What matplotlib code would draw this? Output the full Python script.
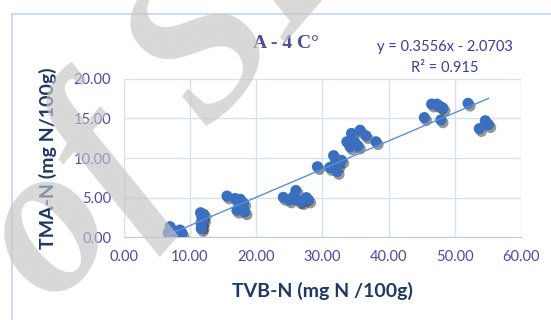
import numpy as np
import matplotlib.pyplot as plt
import matplotlib.patheffects as pe
from matplotlib.patches import Rectangle

# TVB-N vs TMA-N readings (mg N / 100g)
tvb_n = [7.0, 6.7, 7.75, 7.5, 8.5, 8.75, 8.25,
         11.6, 12.1, 11.8, 12.0, 11.7, 11.8, 11.7,
         15.6, 16.8, 17.6, 17.3, 18.1, 17.1, 18.3, 17.8,
         24.1, 25.0, 26.0, 26.9, 27.9, 25.6, 27.6, 26.5,
         29.25, 31.7, 31.1, 32.3, 32.9, 32.2, 32.0,
         33.7, 34.4, 35.7, 36.6, 34.2, 35.4, 38.1, 34.9,
         46.5, 47.3, 47.8, 48.2, 45.4, 47.9, 52.0,
         53.7, 54.6, 55.1]
tma_n = [1.34, 0.58, 0.7, 0.08, 0.92, 0.5, 0.29,
         3.1, 2.9, 2.5, 2.2, 1.8, 1.4, 1.1,
         5.2, 4.9, 4.8, 4.5, 4.3, 3.4, 3.2, 3.9,
         5.04, 4.7, 5.9, 4.5, 4.7, 5.1, 5.0, 4.6,
         8.9, 10.3, 8.8, 9.1, 9.7, 8.3, 9.5,
         12.05, 13.1, 13.5, 12.8, 11.4, 11.5, 12.05, 12.0,
         16.8, 16.8, 16.5, 16.3, 15.1, 14.8, 16.9,
         13.7, 14.7, 14.2]

slope = 0.3556
intercept = -2.0703
r2 = 0.915

x_ticks = [0, 10, 20, 30, 40, 50, 60]
y_ticks = [0, 5, 10, 15, 20]

tick_color = '#4b4b9e'
label_color = '#1f3864'

fig = plt.figure(figsize=(5.51, 3.2), dpi=100)
ax = fig.add_axes([0.2245, 0.2584, 0.7211, 0.4956])
ax.set_xlim(0, 60)
ax.set_ylim(0, 20)
ax.set_xticks(x_ticks)
ax.set_yticks(y_ticks)
ax.xaxis.set_major_formatter(lambda v, p: '%.2f' % v)
ax.yaxis.set_major_formatter(lambda v, p: '%.2f' % v)
ax.tick_params(length=0, labelsize=10.5, labelcolor=tick_color, pad=9)
for lab in ax.get_xticklabels() + ax.get_yticklabels():
    lab.set_family('Lato')
ax.grid(True, color='#d6e2f3', linewidth=1.0)
ax.set_axisbelow(True)
for side in ['top', 'right']:
    ax.spines[side].set_visible(False)
ax.spines['left'].set_color('#d6e2f3')
ax.spines['bottom'].set_color('#b8cce8')

ax.scatter(tvb_n, tma_n, s=64, color='#3a6fbf', zorder=3, linewidths=0,
           path_effects=[pe.SimplePatchShadow(offset=(1.5, -2), shadow_rgbFace='#1a1a1a', alpha=0.45),
                         pe.Normal()])

xs = np.array([min(tvb_n), max(tvb_n)])
ax.plot(xs, slope * xs + intercept, color='#5a8fd6', linewidth=1.0, zorder=4)

ax.set_xlabel('TVB-N (mg N /100g)', family='Lato', fontsize=14, fontweight='bold',
              color=label_color, labelpad=13)
ax.set_ylabel('TMA-N (mg N/100g)', family='Lato', fontsize=14, fontweight='bold',
              color=label_color, labelpad=12)

fig.text(286 / 551, 1 - 43 / 320, 'A - 4 C°', family='Liberation Serif', fontweight='bold',
         fontsize=14, color='#4d4d92', ha='center', va='center')
fig.text(445 / 551, 1 - 47 / 320, 'y = %.4fx - %.4f' % (slope, -intercept), family='Lato',
         fontsize=10.5, color='#3d3d8f', ha='center', va='center')
fig.text(445 / 551, 1 - 68 / 320, 'R² = %.3f' % r2, family='Lato',
         fontsize=10.5, color='#3d3d8f', ha='center', va='center')

# chart frame
fig.patches.append(Rectangle((12 / 551, -0.1), 1.2, 1.1 - 14 / 320, transform=fig.transFigure,
                             fill=False, edgecolor='#cfdcef', linewidth=1.5))

# watermark
fig.text(55 / 551, 12 / 320, 'of SL', family='Liberation Serif', style='italic',
         fontweight='bold', fontsize=155,
         color='#c4c4c4', alpha=0.65, rotation=49, rotation_mode='anchor',
         ha='left', va='baseline', zorder=10)

fig.savefig('out.png', dpi=100)
